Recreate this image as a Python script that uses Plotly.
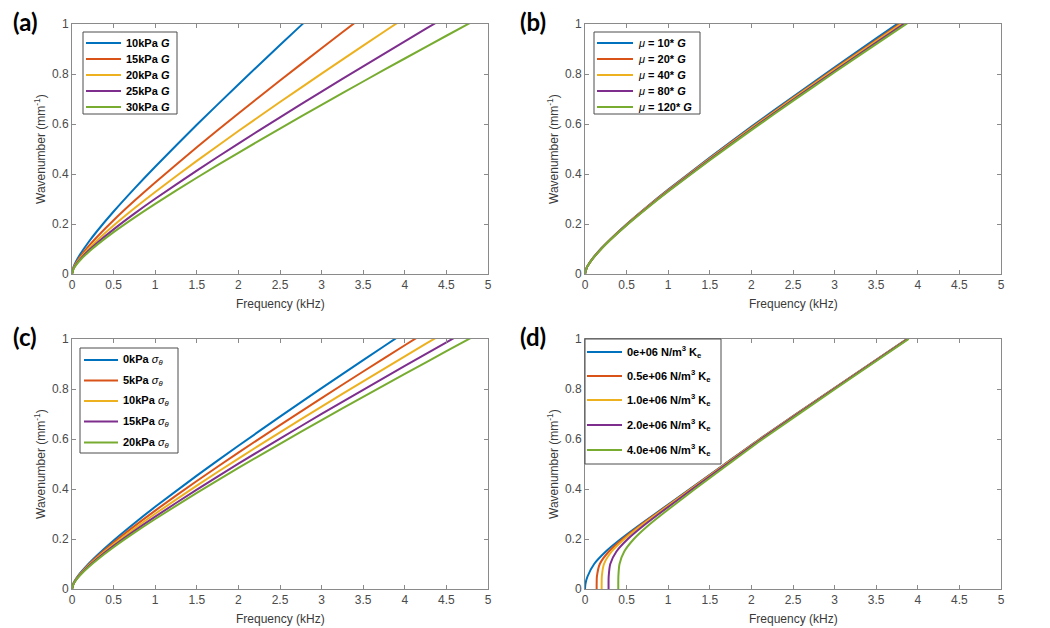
import plotly.graph_objects as go
from plotly.subplots import make_subplots

W, H = 1050, 628
COLORS = ["#0072BD", "#D95319", "#EDB120", "#7E2F8E", "#77AC30"]

# ---------------------------------------------------------------------------
# data
# ---------------------------------------------------------------------------

# (a) shear modulus G
freq_a = [0, 0.02, 0.05, 0.1, 0.2, 0.3, 0.5, 0.75, 1, 1.5, 2, 2.5, 3, 3.5, 4, 4.5, 5]
labels_a = ["<b>10kPa <i>G</i></b>", "<b>15kPa <i>G</i></b>", "<b>20kPa <i>G</i></b>",
            "<b>25kPa <i>G</i></b>", "<b>30kPa <i>G</i></b>"]
k_a_10 = [0, 0.0293, 0.0511, 0.0798, 0.1280, 0.1710, 0.2499, 0.3416, 0.4291, 0.5967,
          0.7583, 0.9160, 1.0710, 1.2239, 1.3752, 1.5251, 1.6740]
k_a_15 = [0, 0.0261, 0.0451, 0.0700, 0.1115, 0.1482, 0.2151, 0.2927, 0.3663, 0.5069,
          0.6421, 0.7738, 0.9030, 1.0304, 1.1563, 1.2809, 1.4046]
k_a_20 = [0, 0.0240, 0.0414, 0.0639, 0.1012, 0.1341, 0.1939, 0.2628, 0.3281, 0.4524,
          0.5718, 0.6878, 0.8016, 0.9136, 1.0242, 1.1337, 1.2423]
k_a_25 = [0, 0.0226, 0.0387, 0.0595, 0.0938, 0.1240, 0.1786, 0.2414, 0.3008, 0.4137,
          0.5218, 0.6268, 0.7297, 0.8309, 0.9307, 1.0296, 1.1275]
k_a_30 = [0, 0.0214, 0.0366, 0.0562, 0.0883, 0.1164, 0.1673, 0.2256, 0.2806, 0.3851,
          0.4849, 0.5819, 0.6767, 0.7700, 0.8620, 0.9530, 1.0432]

# (b) mu
freq_b = [0, 0.02, 0.05, 0.1, 0.2, 0.3, 0.5, 0.75, 1, 1.5, 2, 2.5, 3, 3.5, 4]
labels_b = ["<i>μ</i><b> = 10* <i>G</i></b>", "<i>μ</i><b> = 20* <i>G</i></b>",
            "<i>μ</i><b> = 40* <i>G</i></b>", "<i>μ</i><b> = 80* <i>G</i></b>",
            "<i>μ</i><b> = 120* <i>G</i></b>"]
k_b_10 = [0, 0.0246, 0.0423, 0.0655, 0.1038, 0.1376, 0.1992, 0.2702, 0.3376, 0.4660,
          0.5893, 0.7092, 0.8268, 0.9426, 1.0570]
k_b_20 = [0, 0.0245, 0.0421, 0.0651, 0.1032, 0.1368, 0.1980, 0.2686, 0.3355, 0.4630,
          0.5854, 0.7045, 0.8213, 0.9362, 1.0498]
k_b_40 = [0, 0.0244, 0.0420, 0.0649, 0.1028, 0.1363, 0.1972, 0.2675, 0.3341, 0.4611,
          0.5829, 0.7014, 0.8176, 0.9320, 1.0451]
k_b_80 = [0, 0.0243, 0.0418, 0.0646, 0.1023, 0.1356, 0.1961, 0.2659, 0.3321, 0.4582,
          0.5791, 0.6968, 0.8122, 0.9258, 1.0380]
k_b_120 = [0, 0.0242, 0.0416, 0.0643, 0.1017, 0.1348, 0.1950, 0.2643, 0.3300, 0.4553,
           0.5754, 0.6923, 0.8068, 0.9196, 1.0311]

# (c) hoop stress sigma_theta
freq_c = [0, 0.02, 0.05, 0.1, 0.2, 0.3, 0.5, 0.75, 1, 1.5, 2, 2.5, 3, 3.5, 4, 4.5, 5]
labels_c = ["<b>0kPa</b> <i>σ<sub>θ</sub></i>", "<b>5kPa</b> <i>σ<sub>θ</sub></i>",
            "<b>10kPa</b> <i>σ<sub>θ</sub></i>", "<b>15kPa</b> <i>σ<sub>θ</sub></i>",
            "<b>20kPa</b> <i>σ<sub>θ</sub></i>"]
k_c_0 = [0, 0.0241, 0.0415, 0.0640, 0.1014, 0.1343, 0.1942, 0.2633, 0.3287, 0.4534,
         0.5730, 0.6893, 0.8034, 0.9156, 1.0265, 1.1363, 1.2451]
k_c_5 = [0, 0.0233, 0.0400, 0.0616, 0.0973, 0.1288, 0.1858, 0.2515, 0.3137, 0.4321,
         0.5455, 0.6557, 0.7637, 0.8700, 0.9750, 1.0789, 1.1818]
k_c_10 = [0, 0.0226, 0.0387, 0.0595, 0.0938, 0.1240, 0.1786, 0.2414, 0.3008, 0.4137,
          0.5218, 0.6268, 0.7297, 0.8309, 0.9307, 1.0296, 1.1275]
k_c_15 = [0, 0.0219, 0.0375, 0.0577, 0.0907, 0.1198, 0.1723, 0.2326, 0.2895, 0.3977,
          0.5012, 0.6017, 0.7001, 0.7969, 0.8924, 0.9868, 1.0804]
k_c_20 = [0, 0.0214, 0.0366, 0.0561, 0.0882, 0.1163, 0.1670, 0.2252, 0.2801, 0.3844,
          0.4841, 0.5808, 0.6755, 0.7686, 0.8605, 0.9513, 1.0413]

# (d) foundation stiffness K_e (frequency listed per wavenumber, cut-off at k = 0)
wavenum_d = [0, 0.02, 0.05, 0.1, 0.15, 0.2, 0.25, 0.3, 0.4, 0.5, 0.6, 0.8, 1.0]
labels_d = ["<b>0e+06 N/m<sup>3</sup> K<sub>e</sub></b>",
            "<b>0.5e+06 N/m<sup>3</sup> K<sub>e</sub></b>",
            "<b>1.0e+06 N/m<sup>3</sup> K<sub>e</sub></b>",
            "<b>2.0e+06 N/m<sup>3</sup> K<sub>e</sub></b>",
            "<b>4.0e+06 N/m<sup>3</sup> K<sub>e</sub></b>"]
f_d_0 = [0, 0.005, 0.03, 0.11, 0.25, 0.43, 0.63, 0.84, 1.26, 1.68, 2.10, 2.98, 3.87]
f_d_05 = [0.14, 0.1401, 0.1432, 0.1780, 0.2865, 0.4522, 0.6454, 0.8516, 1.2678, 1.6858,
          2.1047, 2.9833, 3.8725]
f_d_10 = [0.20, 0.2001, 0.2022, 0.2283, 0.3202, 0.4742, 0.6610, 0.8635, 1.2758, 1.6919,
          2.1095, 2.9867, 3.8752]
f_d_20 = [0.283, 0.2830, 0.2846, 0.3036, 0.3776, 0.5148, 0.6907, 0.8864, 1.2914, 1.7037,
          2.1190, 2.9934, 3.8803]
f_d_40 = [0.40, 0.4000, 0.4011, 0.4149, 0.4717, 0.5873, 0.7463, 0.9304, 1.3220, 1.7270,
          2.1378, 3.0067, 3.8906]

x_ticks = [0, 0.5, 1, 1.5, 2, 2.5, 3, 3.5, 4, 4.5, 5]
y_ticks = [0, 0.2, 0.4, 0.6, 0.8, 1]

# ---------------------------------------------------------------------------
# layout helpers (pixel -> paper)
# ---------------------------------------------------------------------------

def px(x):
    return x / W


def py(y):
    return 1 - y / H


# plot boxes in pixels: x0, x1, ytop, ybottom
BOXES = {
    (1, 1): (72, 488, 24, 274),
    (1, 2): (585, 1001, 24, 274),
    (2, 1): (72, 488, 339, 589),
    (2, 2): (585, 1001, 339, 589),
}
TAG_POS = {(1, 1): (11, 22), (1, 2): (518, 22), (2, 1): (11, 336), (2, 2): (518, 336)}

fig = make_subplots(rows=2, cols=2)

panels = [
    (1, 1, "(a)", [(freq_a, k) for k in (k_a_10, k_a_15, k_a_20, k_a_25, k_a_30)], labels_a),
    (1, 2, "(b)", [(freq_b, k) for k in (k_b_10, k_b_20, k_b_40, k_b_80, k_b_120)], labels_b),
    (2, 1, "(c)", [(freq_c, k) for k in (k_c_0, k_c_5, k_c_10, k_c_15, k_c_20)], labels_c),
    (2, 2, "(d)", [(f, wavenum_d) for f in (f_d_0, f_d_05, f_d_10, f_d_20, f_d_40)], labels_d),
]

for row, col, tag, series, labels in panels:
    for i, (xs, ys) in enumerate(series):
        fig.add_trace(
            go.Scatter(x=xs, y=ys, mode="lines", name=labels[i], showlegend=False,
                       line=dict(color=COLORS[i], width=2, shape="spline", smoothing=0.6)),
            row=row, col=col,
        )

axis_style = dict(
    showline=True, mirror="allticks", linecolor="#8a8a8a", linewidth=1,
    ticks="inside", ticklen=4, tickcolor="#8a8a8a", showgrid=False, zeroline=False,
    automargin=False,
    tickfont=dict(family="Liberation Sans, Arial", size=12, color="#4a4a4a"),
)

annotations = []
shapes = []

# legend geometry in pixels: box, line x-range, text x, row centres
LEGENDS = {
    (1, 1): ((83, 32, 177, 114), (86, 121), 124, [43, 59, 75, 91, 107]),
    (1, 2): ((594, 32, 700, 114), (597, 633), 636, [43, 59, 75, 91, 107]),
    (2, 1): ((80, 348, 178, 453), (84, 118), 121, [360, 380.5, 401, 421.5, 442.5]),
    (2, 2): ((585, 339, 721, 464), (587, 622), 625, [352, 376, 400, 425, 450]),
}

for row, col, tag, series, labels in panels:
    x0, x1, yt, yb = BOXES[(row, col)]
    fig.update_xaxes(domain=[px(x0), px(x1)], range=[0, 5], tickvals=x_ticks,
                     ticktext=[f"{t:g}" for t in x_ticks], row=row, col=col, **axis_style)
    fig.update_yaxes(domain=[py(yb), py(yt)], range=[0, 1], tickvals=y_ticks,
                     ticktext=[f"{t:g}" for t in y_ticks], row=row, col=col, **axis_style)

    # panel tag
    tx_, ty_ = TAG_POS[(row, col)]
    annotations.append(dict(text=f"<b>{tag}</b>", x=px(tx_), y=py(ty_), xref="paper",
                            yref="paper", xanchor="left", yanchor="middle", showarrow=False,
                            font=dict(family="Lato", size=24, color="black")))
    # axis titles
    annotations.append(dict(text="Frequency (kHz)", x=px((x0 + x1) / 2), y=py(yb + 30),
                            xref="paper", yref="paper", xanchor="center", yanchor="middle",
                            showarrow=False,
                            font=dict(family="Liberation Sans, Arial", size=12, color="#3a3a3a")))
    annotations.append(dict(text="Wavenumber (mm<sup>-1</sup>)", x=px(x0 - 32),
                            y=py((yt + yb) / 2), xref="paper", yref="paper", textangle=-90,
                            xanchor="center", yanchor="middle", showarrow=False,
                            font=dict(family="Liberation Sans, Arial", size=12, color="#3a3a3a")))

    # legend box
    (bx0, by0, bx1, by1), (lx0, lx1), tx, rows = LEGENDS[(row, col)]
    shapes.append(dict(type="rect", xref="paper", yref="paper", x0=px(bx0), x1=px(bx1),
                       y0=py(by1), y1=py(by0), line=dict(color="#4d4d4d", width=1),
                       fillcolor="white", layer="above"))
    for i, ry in enumerate(rows):
        shapes.append(dict(type="line", xref="paper", yref="paper", x0=px(lx0), x1=px(lx1),
                           y0=py(ry), y1=py(ry), line=dict(color=COLORS[i], width=2),
                           layer="above"))
        annotations.append(dict(text=labels[i], x=px(tx), y=py(ry), xref="paper", yref="paper",
                                xanchor="left", yanchor="middle", showarrow=False,
                                font=dict(family="Liberation Sans, Arial", size=11,
                                          color="black")))

fig.update_layout(
    template="none",
    width=W, height=H,
    margin=dict(l=0, r=0, t=0, b=0, pad=0),
    paper_bgcolor="white", plot_bgcolor="white",
    showlegend=False,
    annotations=annotations,
    shapes=shapes,
)

# the page body has a default 8px margin; drop it so the figure fills the window
fig.write_html("out.html", config={"displayModeBar": False},
               post_script="document.body.style.margin = '0px';")
